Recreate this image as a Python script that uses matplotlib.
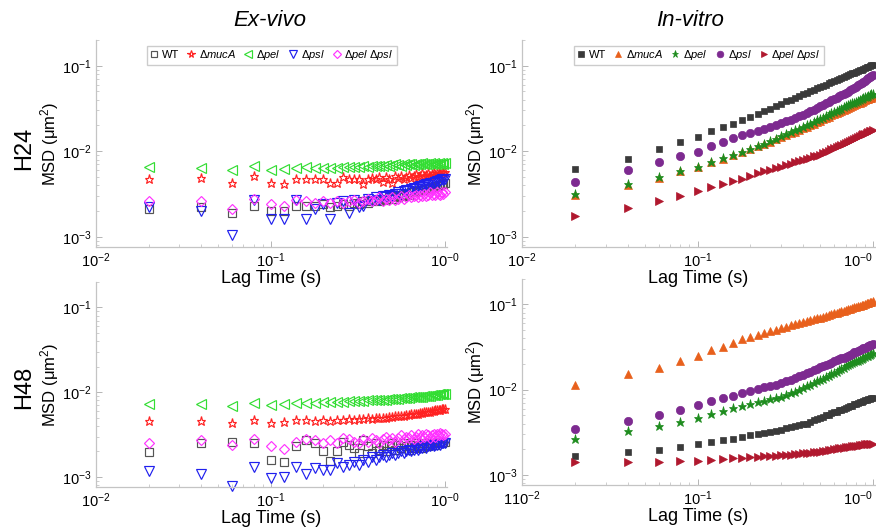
import matplotlib
matplotlib.use('Agg')
import matplotlib.pyplot as plt
import matplotlib.ticker as mticker

plt.rcParams['font.family'] = ['Liberation Sans', 'DejaVu Sans']
plt.rcParams['mathtext.fontset'] = 'custom'
plt.rcParams['mathtext.rm'] = 'Liberation Sans'
plt.rcParams['mathtext.it'] = 'Liberation Sans:italic'

# lag times (s)
lag = [0.02, 0.04, 0.06, 0.08, 0.10, 0.12, 0.14, 0.16, 0.18, 0.20,
       0.22, 0.24, 0.26, 0.28, 0.30, 0.32, 0.34, 0.36, 0.38, 0.40,
       0.42, 0.44, 0.46, 0.48, 0.50, 0.52, 0.54, 0.56, 0.58, 0.60,
       0.62, 0.64, 0.66, 0.68, 0.70, 0.72, 0.74, 0.76, 0.78, 0.80,
       0.82, 0.84, 0.86, 0.88, 0.90, 0.92, 0.94, 0.96, 0.98, 1.00]

strains = ['WT', 'Δ$\\mathit{mucA}$', 'Δ$\\mathit{pel}$', 'Δ$\\mathit{psl}$',
           'Δ$\\mathit{pel}$ Δ$\\mathit{psl}$']

# ---- Ex-vivo, H24 ----
ex24_wt = [0.0021, 0.0022, 0.0019, 0.0023, 0.0020, 0.0020, 0.0023, 0.0023, 0.0023, 0.0024,
           0.0022, 0.0023, 0.0024, 0.0023, 0.0025, 0.0024, 0.0026, 0.0025, 0.0026, 0.0027,
           0.0026, 0.0028, 0.0027, 0.0029, 0.0028, 0.0030, 0.0029, 0.0031, 0.0030, 0.0032,
           0.0031, 0.0033, 0.0033, 0.0034, 0.0034, 0.0035, 0.0035, 0.0036, 0.0036, 0.0037,
           0.0037, 0.0038, 0.0038, 0.0039, 0.0039, 0.0040, 0.0040, 0.0041, 0.0041, 0.0042]
ex24_muca = [0.0048, 0.0049, 0.0043, 0.0052, 0.0042, 0.0041, 0.0047, 0.0047, 0.0047, 0.0047,
             0.0043, 0.0042, 0.0050, 0.0047, 0.0047, 0.0048, 0.0041, 0.0048, 0.0049, 0.0047,
             0.0050, 0.0044, 0.0050, 0.0048, 0.0043, 0.0051, 0.0049, 0.0052, 0.0047, 0.0050,
             0.0053, 0.0049, 0.0051, 0.0054, 0.0050, 0.0052, 0.0055, 0.0051, 0.0053, 0.0055,
             0.0052, 0.0054, 0.0056, 0.0053, 0.0055, 0.0056, 0.0054, 0.0057, 0.0055, 0.0057]
ex24_pel = [0.0065, 0.0063, 0.0060, 0.0068, 0.0061, 0.0062, 0.0064, 0.0066, 0.0064, 0.0064,
            0.0063, 0.0064, 0.0065, 0.0066, 0.0065, 0.0066, 0.0067, 0.0066, 0.0067, 0.0068,
            0.0067, 0.0068, 0.0069, 0.0068, 0.0069, 0.0070, 0.0069, 0.0068, 0.0070, 0.0069,
            0.0070, 0.0071, 0.0069, 0.0070, 0.0071, 0.0070, 0.0072, 0.0071, 0.0070, 0.0071,
            0.0072, 0.0071, 0.0072, 0.0070, 0.0071, 0.0072, 0.0071, 0.0072, 0.0071, 0.0072]
ex24_psl = [0.0022, 0.0020, 0.00105, 0.0027, 0.0016, 0.0016, 0.0027, 0.0016, 0.0021, 0.0024,
            0.0016, 0.0025, 0.0026, 0.0019, 0.0027, 0.0022, 0.0023, 0.0028, 0.0026, 0.0029,
            0.0027, 0.0030, 0.0029, 0.0031, 0.0030, 0.0032, 0.0033, 0.0032, 0.0034, 0.0035,
            0.0034, 0.0036, 0.0037, 0.0036, 0.0038, 0.0039, 0.0038, 0.0040, 0.0041, 0.0040,
            0.0042, 0.0043, 0.0042, 0.0044, 0.0045, 0.0044, 0.0046, 0.0047, 0.0046, 0.0048]
ex24_pelpsl = [0.0026, 0.0026, 0.0021, 0.0028, 0.0024, 0.0023, 0.0027, 0.0026, 0.0025, 0.0026,
               0.0025, 0.0026, 0.0025, 0.0026, 0.0027, 0.0025, 0.0026, 0.0028, 0.0026, 0.0027,
               0.0029, 0.0026, 0.0028, 0.0027, 0.0029, 0.0027, 0.0028, 0.0030, 0.0028, 0.0029,
               0.0031, 0.0029, 0.0030, 0.0031, 0.0029, 0.0031, 0.0030, 0.0032, 0.0030, 0.0031,
               0.0033, 0.0031, 0.0032, 0.0031, 0.0033, 0.0032, 0.0031, 0.0033, 0.0032, 0.0033]

# ---- Ex-vivo, H48 ----
ex48_wt = [0.00196, 0.00254, 0.0026, 0.0025, 0.00158, 0.00152, 0.0023, 0.0027, 0.0025, 0.0020,
           0.00155, 0.0020, 0.0026, 0.0024, 0.0022, 0.0019, 0.0027, 0.0023, 0.0019, 0.0025,
           0.0021, 0.0024, 0.0020, 0.0023, 0.0025, 0.0021, 0.0024, 0.0022, 0.0025, 0.0023,
           0.0021, 0.0024, 0.0022, 0.0025, 0.0023, 0.0024, 0.0022, 0.0025, 0.0024, 0.0023,
           0.0025, 0.0024, 0.0025, 0.0024, 0.0026, 0.0025, 0.0026, 0.0025, 0.0026, 0.0026]
ex48_muca = [0.0046, 0.0046, 0.0043, 0.0047, 0.0043, 0.0044, 0.0047, 0.0047, 0.0046, 0.0047,
             0.0046, 0.0047, 0.0047, 0.0048, 0.0047, 0.0048, 0.0048, 0.0049, 0.0048, 0.0049,
             0.0049, 0.0050, 0.0050, 0.0051, 0.0051, 0.0052, 0.0052, 0.0053, 0.0053, 0.0054,
             0.0054, 0.0055, 0.0055, 0.0056, 0.0056, 0.0057, 0.0057, 0.0058, 0.0058, 0.0059,
             0.0059, 0.0060, 0.0060, 0.0061, 0.0061, 0.0062, 0.0062, 0.0063, 0.0063, 0.0064]
ex48_pel = [0.0073, 0.0072, 0.0069, 0.0074, 0.0071, 0.0073, 0.0074, 0.0075, 0.0075, 0.0076,
            0.0076, 0.0077, 0.0077, 0.0078, 0.0078, 0.0079, 0.0079, 0.0080, 0.0080, 0.0081,
            0.0081, 0.0082, 0.0082, 0.0083, 0.0083, 0.0084, 0.0084, 0.0085, 0.0085, 0.0086,
            0.0086, 0.0087, 0.0087, 0.0088, 0.0088, 0.0089, 0.0089, 0.0090, 0.0090, 0.0091,
            0.0091, 0.0092, 0.0092, 0.0093, 0.0093, 0.0094, 0.0094, 0.0095, 0.0095, 0.0096]
ex48_psl = [0.00118, 0.00108, 0.00078, 0.0013, 0.00098, 0.00099, 0.0013, 0.00108, 0.00127, 0.0012,
            0.0012, 0.00147, 0.0013, 0.0014, 0.0015, 0.0014, 0.0016, 0.0015, 0.0017, 0.0016,
            0.0017, 0.0018, 0.0017, 0.0018, 0.0019, 0.0018, 0.0019, 0.0020, 0.0019, 0.0020,
            0.0021, 0.0020, 0.0021, 0.0022, 0.0021, 0.0022, 0.0022, 0.0023, 0.0022, 0.0023,
            0.0023, 0.0024, 0.0023, 0.0024, 0.0024, 0.0025, 0.0024, 0.0025, 0.0025, 0.0025]
ex48_pelpsl = [0.00255, 0.0027, 0.0024, 0.0028, 0.00232, 0.00216, 0.0026, 0.00284, 0.0027, 0.0025,
               0.0027, 0.0025, 0.0029, 0.0028, 0.0026, 0.0025, 0.0028, 0.0026, 0.0029, 0.0027,
               0.0025, 0.0028, 0.0030, 0.0027, 0.0029, 0.0026, 0.0029, 0.0031, 0.0028, 0.0030,
               0.0029, 0.0031, 0.0028, 0.0030, 0.0032, 0.0029, 0.0031, 0.0030, 0.0032, 0.0031,
               0.0029, 0.0031, 0.0032, 0.0030, 0.0032, 0.0031, 0.0033, 0.0032, 0.0031, 0.0032]

# ---- In-vitro, H24 ----
iv24_wt = [0.0062, 0.0082, 0.0106, 0.0129, 0.0148, 0.0172, 0.0190, 0.0211, 0.0231, 0.0251,
           0.0272, 0.0293, 0.0315, 0.0337, 0.0360, 0.0382, 0.0402, 0.0422, 0.0443, 0.0464,
           0.0485, 0.0505, 0.0524, 0.0544, 0.0563, 0.0582, 0.0601, 0.0620, 0.0640, 0.0660,
           0.0679, 0.0698, 0.0717, 0.0736, 0.0755, 0.0774, 0.0792, 0.0811, 0.0830, 0.0848,
           0.0866, 0.0884, 0.0902, 0.0920, 0.0938, 0.0956, 0.0974, 0.0992, 0.1010, 0.1030]
iv24_muca = [0.0031, 0.0040, 0.0049, 0.0058, 0.0065, 0.0074, 0.0082, 0.0090, 0.0098, 0.0106,
             0.0114, 0.0122, 0.0130, 0.0138, 0.0146, 0.0154, 0.0162, 0.0170, 0.0178, 0.0186,
             0.0194, 0.0202, 0.0211, 0.0219, 0.0228, 0.0236, 0.0245, 0.0253, 0.0262, 0.0270,
             0.0279, 0.0287, 0.0296, 0.0304, 0.0313, 0.0321, 0.0330, 0.0338, 0.0347, 0.0355,
             0.0363, 0.0371, 0.0379, 0.0387, 0.0395, 0.0403, 0.0410, 0.0417, 0.0424, 0.0431]
iv24_pel = [0.0032, 0.0041, 0.0050, 0.0059, 0.0066, 0.0075, 0.0083, 0.0091, 0.0099, 0.0107,
            0.0115, 0.0123, 0.0132, 0.0140, 0.0149, 0.0158, 0.0166, 0.0175, 0.0183, 0.0192,
            0.0201, 0.0210, 0.0220, 0.0229, 0.0238, 0.0248, 0.0258, 0.0267, 0.0277, 0.0287,
            0.0296, 0.0306, 0.0315, 0.0325, 0.0334, 0.0343, 0.0352, 0.0362, 0.0371, 0.0380,
            0.0389, 0.0398, 0.0407, 0.0416, 0.0425, 0.0434, 0.0443, 0.0452, 0.0461, 0.0470]
iv24_psl = [0.0044, 0.0060, 0.0074, 0.0087, 0.0099, 0.0114, 0.0127, 0.0141, 0.0153, 0.0163,
            0.0173, 0.0183, 0.0193, 0.0203, 0.0214, 0.0224, 0.0235, 0.0245, 0.0256, 0.0267,
            0.0280, 0.0293, 0.0307, 0.0320, 0.0334, 0.0349, 0.0364, 0.0378, 0.0393, 0.0408,
            0.0422, 0.0437, 0.0451, 0.0466, 0.0480, 0.0498, 0.0516, 0.0534, 0.0552, 0.0570,
            0.0590, 0.0610, 0.0630, 0.0650, 0.0670, 0.0690, 0.0710, 0.0730, 0.0750, 0.0770]
iv24_pelpsl = [0.00173, 0.00216, 0.00259, 0.0030, 0.00339, 0.0038, 0.00417, 0.00455, 0.0048, 0.0052,
               0.0055, 0.0058, 0.0060, 0.0063, 0.0066, 0.0069, 0.0071, 0.0074, 0.0077, 0.0080,
               0.0082, 0.0084, 0.0087, 0.0089, 0.0091, 0.0095, 0.0098, 0.0102, 0.0105, 0.0109,
               0.0112, 0.0115, 0.0119, 0.0122, 0.0125, 0.0129, 0.0132, 0.0136, 0.0139, 0.0143,
               0.0146, 0.0150, 0.0153, 0.0157, 0.0160, 0.0164, 0.0167, 0.0171, 0.0174, 0.0178]

# ---- In-vitro, H48 ----
iv48_wt = [0.00166, 0.00185, 0.00197, 0.00211, 0.00227, 0.00242, 0.00253, 0.00265, 0.00277, 0.0029,
           0.0030, 0.0031, 0.0032, 0.0033, 0.0034, 0.0035, 0.0036, 0.0037, 0.0038, 0.0039,
           0.0040, 0.0042, 0.0044, 0.0045, 0.0047, 0.0048, 0.0050, 0.0051, 0.0053, 0.0054,
           0.0055, 0.0057, 0.0058, 0.0060, 0.0061, 0.0062, 0.0064, 0.0065, 0.0067, 0.0068,
           0.0069, 0.0071, 0.0072, 0.0074, 0.0075, 0.0076, 0.0077, 0.0078, 0.0079, 0.0080]
iv48_muca = [0.0112, 0.0152, 0.0178, 0.0217, 0.0251, 0.0292, 0.0320, 0.0356, 0.0390, 0.0419,
             0.0440, 0.0461, 0.0482, 0.0504, 0.0525, 0.0546, 0.0567, 0.0588, 0.0609, 0.0630,
             0.0644, 0.0658, 0.0672, 0.0686, 0.0700, 0.0717, 0.0734, 0.0752, 0.0769, 0.0786,
             0.0801, 0.0816, 0.0830, 0.0845, 0.0860, 0.0876, 0.0892, 0.0908, 0.0924, 0.0940,
             0.0954, 0.0968, 0.0982, 0.0996, 0.1010, 0.1028, 0.1046, 0.1064, 0.1082, 0.1100]
iv48_pel = [0.00266, 0.00324, 0.00371, 0.00417, 0.00465, 0.00516, 0.00565, 0.00608, 0.00647, 0.00683,
            0.0071, 0.0074, 0.0077, 0.0080, 0.0083, 0.0087, 0.0091, 0.0095, 0.0100, 0.0104,
            0.0109, 0.0114, 0.0120, 0.0125, 0.0130, 0.0135, 0.0140, 0.0146, 0.0151, 0.0156,
            0.0162, 0.0168, 0.0175, 0.0181, 0.0187, 0.0192, 0.0198, 0.0203, 0.0209, 0.0214,
            0.0219, 0.0224, 0.0230, 0.0235, 0.0240, 0.0245, 0.0251, 0.0256, 0.0262, 0.0267]
iv48_psl = [0.00345, 0.00425, 0.00504, 0.00575, 0.00653, 0.00728, 0.00789, 0.00846, 0.0091, 0.00968,
            0.0101, 0.0106, 0.0110, 0.0114, 0.0119, 0.0125, 0.0131, 0.0137, 0.0143, 0.0149,
            0.0155, 0.0162, 0.0168, 0.0175, 0.0182, 0.0188, 0.0195, 0.0201, 0.0208, 0.0214,
            0.0220, 0.0226, 0.0232, 0.0238, 0.0244, 0.0251, 0.0258, 0.0265, 0.0273, 0.0280,
            0.0286, 0.0293, 0.0299, 0.0306, 0.0312, 0.0318, 0.0325, 0.0331, 0.0338, 0.0344]
iv48_pelpsl = [0.00142, 0.00143, 0.00143, 0.00145, 0.00147, 0.00149, 0.00154, 0.00156, 0.00158, 0.0016,
               0.00162, 0.00164, 0.00166, 0.00168, 0.00170, 0.00172, 0.00173, 0.00175, 0.00176, 0.00178,
               0.00180, 0.00181, 0.00183, 0.00184, 0.00186, 0.00189, 0.00192, 0.00194, 0.00197, 0.00200,
               0.00202, 0.00204, 0.00206, 0.00208, 0.00210, 0.00212, 0.00213, 0.00215, 0.00216, 0.00218,
               0.00220, 0.00222, 0.00224, 0.00225, 0.00227, 0.00228, 0.00229, 0.00231, 0.00232, 0.00233]

x_ticks = [0.01, 0.1, 1.0]
x_ticklabels = ['10$^{-2}$', '10$^{-1}$', '10$^{-0}$']
x_ticklabels_br = ['110$^{-2}$', '10$^{-1}$', '10$^{-0}$']
y_ticks = [0.001, 0.01, 0.1]
y_ticklabels = ['10$^{-3}$', '10$^{-2}$', '10$^{-1}$']

# marker styles
ex_colors = ['#555555', '#ff2222', '#33dd33', '#2020ee', '#ff33ff']
ex_markers = ['s', '*', '<', 'v', 'D']
ex_sizes = [6, 6.8, 7, 7, 5.5]
iv_colors = ['#3a3a3a', '#e8601c', '#1e8c1e', '#7d2a90', '#b0182e']
iv_markers = ['s', '^', '*', 'o', '>']
iv_sizes = [5, 6, 6.5, 6, 6]

fig = plt.figure(figsize=(8.76, 5.30), dpi=100)
ax_tl = fig.add_axes([0.1096, 0.534, 0.4007, 0.3906])
ax_bl = fig.add_axes([0.1096, 0.081, 0.4007, 0.387])
ax_tr = fig.add_axes([0.5959, 0.534, 0.403, 0.3906])
ax_br = fig.add_axes([0.5959, 0.085, 0.403, 0.389])

panels = [
    (ax_tl, [ex24_wt, ex24_muca, ex24_pel, ex24_psl, ex24_pelpsl], False, x_ticklabels),
    (ax_bl, [ex48_wt, ex48_muca, ex48_pel, ex48_psl, ex48_pelpsl], False, x_ticklabels),
    (ax_tr, [iv24_wt, iv24_muca, iv24_pel, iv24_psl, iv24_pelpsl], True, x_ticklabels),
    (ax_br, [iv48_wt, iv48_muca, iv48_pel, iv48_psl, iv48_pelpsl], True, x_ticklabels_br),
]

for ax, series, filled, xlabels in panels:
    ax.patch.set_alpha(0)
    cols = iv_colors if filled else ex_colors
    mks = iv_markers if filled else ex_markers
    szs = iv_sizes if filled else ex_sizes
    for vals, lbl, c, m, s in zip(series, strains, cols, mks, szs):
        if filled:
            ax.plot(lag, vals, linestyle='none', marker=m, ms=s, color=c,
                    mec=c, mew=0.5, label=lbl, clip_on=False)
        else:
            ax.plot(lag, vals, linestyle='none', marker=m, ms=s, mfc='none',
                    mec=c, mew=0.85, label=lbl, clip_on=False)

    ax.set_xscale('log')
    ax.set_yscale('log')
    ax.set_xlim(0.01, 1.027)
    ax.set_ylim(7.6e-4, 0.2)
    ax.set_xticks(x_ticks)
    ax.set_xticklabels(xlabels)
    ax.set_yticks(y_ticks)
    ax.set_yticklabels(y_ticklabels)
    ax.xaxis.set_minor_locator(mticker.LogLocator(base=10, subs=range(2, 10)))
    ax.yaxis.set_minor_locator(mticker.LogLocator(base=10, subs=range(2, 10)))
    ax.xaxis.set_minor_formatter(mticker.NullFormatter())
    ax.yaxis.set_minor_formatter(mticker.NullFormatter())
    ax.tick_params(which='major', direction='in', length=4, width=0.6,
                   color='#aaaaaa', labelsize=10.5, pad=3)
    ax.tick_params(which='minor', direction='in', length=2, width=0.5,
                   color='#bbbbbb')
    if filled:
        ax.get_xticklabels()[-1].set_horizontalalignment('right')
    for side in ('top', 'right'):
        ax.spines[side].set_visible(False)
    for side in ('left', 'bottom'):
        ax.spines[side].set_color('#c4c4c4')
        ax.spines[side].set_linewidth(0.9)
    ax.set_xlabel('Lag Time (s)', fontsize=13, labelpad=0)
    ax.set_ylabel('MSD (μm$^2$)', fontsize=12)
    ax.yaxis.set_label_coords(-0.10, 0.5)

    if ax in (ax_tl, ax_tr):
        ax.legend(loc='upper center', bbox_to_anchor=(0.5, 1.0), ncol=5,
                  fontsize=8, handlelength=0.8, handletextpad=0.3,
                  columnspacing=0.7, borderpad=0.25, frameon=True,
                  fancybox=False, edgecolor='#cccccc', framealpha=1,
                  markerscale=0.8)

fig.text(0.308, 0.962, 'Ex-vivo', fontsize=16, style='italic', ha='center', va='center')
fig.text(0.788, 0.962, 'In-vitro', fontsize=16, style='italic', ha='center', va='center')
fig.text(0.027, 0.72, 'H24', fontsize=17, rotation=90, ha='center', va='center')
fig.text(0.027, 0.27, 'H48', fontsize=17, rotation=90, ha='center', va='center')

fig.savefig('out.png', dpi=100, facecolor='white')
